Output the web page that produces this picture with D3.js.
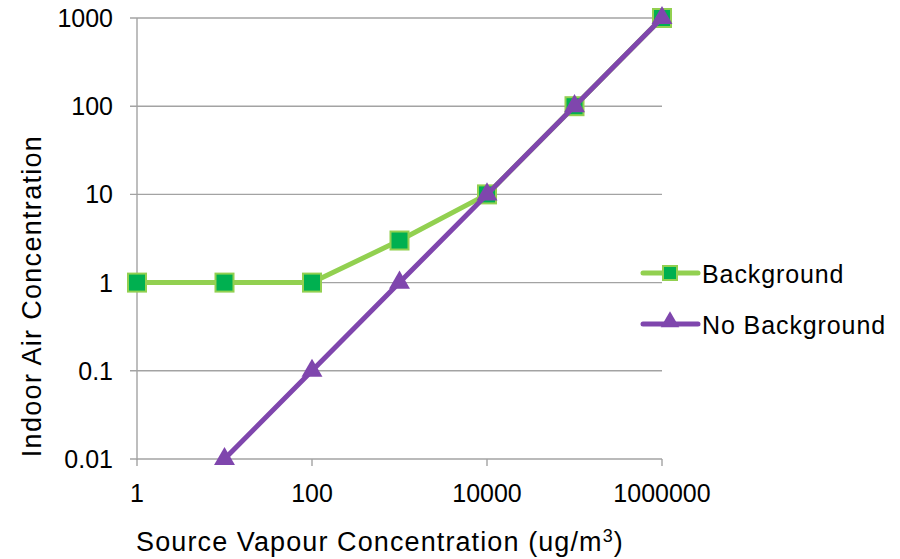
<!DOCTYPE html>
<html><head><meta charset="utf-8">
<script src="https://cdn.jsdelivr.net/npm/d3@7"></script>
<style>body{margin:0;background:#fff}svg{display:block;font-family:"Liberation Sans",Arial,sans-serif}</style>
</head><body><svg id="c" width="900" height="559"></svg>
<script>
const xValues = [1, 10, 100, 1000, 10000, 100000, 1000000];
const backgroundValues = [1, 1, 1, 3, 10, 100, 1000];
const noBgX = [10, 100, 1000, 10000, 100000, 1000000];
const noBackgroundValues = [0.01, 0.1, 1, 10, 100, 1000];
const xTicks = [1, 100, 10000, 1000000];
const yTicks = [0.01, 0.1, 1, 10, 100, 1000];
const seriesNames = ["Background", "No Background"];

const svg = d3.select("#c");
const L = 137, R = 662, T = 18, B = 459;
const x = d3.scaleLog().domain([1, 1000000]).range([L, R]);
const y = d3.scaleLog().domain([0.01, 1000]).range([B, T]);
const grid = "#a3a3a3";

svg.append("g").selectAll("line").data(yTicks).join("line")
  .attr("x1", L - 7).attr("x2", R).attr("y1", d => y(d)).attr("y2", d => y(d))
  .attr("stroke", grid).attr("stroke-width", 1.4);
svg.append("line").attr("x1", L).attr("x2", L).attr("y1", T).attr("y2", B + 1)
  .attr("stroke", grid).attr("stroke-width", 1.4);
svg.append("g").selectAll("line").data(xTicks).join("line")
  .attr("x1", d => x(d)).attr("x2", d => x(d)).attr("y1", B).attr("y2", B + 7)
  .attr("stroke", grid).attr("stroke-width", 1.4);

svg.append("g").selectAll("text").data(yTicks).join("text")
  .attr("x", 113).attr("y", d => y(d) + 9).attr("text-anchor", "end")
  .attr("font-size", 25).attr("fill", "#000").text(d => String(d));
svg.append("g").selectAll("text").data(xTicks).join("text")
  .attr("x", d => x(d)).attr("y", 502).attr("text-anchor", "middle")
  .attr("font-size", 25).attr("fill", "#000").text(d => String(d));

svg.append("text").attr("transform", "translate(41,296) rotate(-90)")
  .attr("text-anchor", "middle").attr("font-size", 27).attr("letter-spacing", 1.3).attr("fill", "#000")
  .text("Indoor Air Concentration");
const xt = svg.append("text").attr("x", 380).attr("y", 551).attr("text-anchor", "middle")
  .attr("font-size", 27).attr("letter-spacing", 1.1).attr("fill", "#000");
xt.append("tspan").text("Source Vapour Concentration (ug/m");
xt.append("tspan").attr("font-size", 18).attr("dy", -9).text("3");
xt.append("tspan").attr("dy", 9).text(")");

const greenLine = "#92d050", greenFill = "#00b050", purple = "#7f46ad";
const line = d3.line().x(d => x(d[0])).y(d => y(d[1]));
const bg = xValues.map((v, i) => [v, backgroundValues[i]]);
const nb = noBgX.map((v, i) => [v, noBackgroundValues[i]]);

svg.append("path").datum(bg).attr("d", line).attr("fill", "none")
  .attr("stroke", greenLine).attr("stroke-width", 5).attr("stroke-linejoin", "round");
svg.append("g").selectAll("rect").data(bg).join("rect")
  .attr("x", d => x(d[0]) - 9).attr("y", d => y(d[1]) - 9).attr("width", 18).attr("height", 18)
  .attr("fill", greenFill).attr("stroke", greenLine).attr("stroke-width", 2);

const tri = d3.symbol().type(d3.symbolTriangle).size(190);
svg.append("path").datum(nb).attr("d", line).attr("fill", "none")
  .attr("stroke", purple).attr("stroke-width", 5).attr("stroke-linejoin", "round");
svg.append("g").selectAll("path").data(nb).join("path")
  .attr("d", tri).attr("transform", d => `translate(${x(d[0])},${y(d[1])})`)
  .attr("fill", purple);

const lg = svg.append("g");
const ly = [273, 324];
lg.append("line").attr("x1", 643).attr("x2", 698).attr("y1", ly[0]).attr("y2", ly[0])
  .attr("stroke", greenLine).attr("stroke-width", 5).attr("stroke-linecap", "round");
lg.append("rect").attr("x", 663).attr("y", ly[0] - 7).attr("width", 14).attr("height", 14)
  .attr("fill", greenFill).attr("stroke", greenLine).attr("stroke-width", 2);
lg.append("line").attr("x1", 643).attr("x2", 698).attr("y1", ly[1]).attr("y2", ly[1])
  .attr("stroke", purple).attr("stroke-width", 5).attr("stroke-linecap", "round");
lg.append("path").attr("d", d3.symbol().type(d3.symbolTriangle).size(150))
  .attr("transform", `translate(670,${ly[1] - 2})`).attr("fill", purple);
lg.selectAll("text").data(seriesNames).join("text")
  .attr("x", 702).attr("y", (d, i) => ly[i] + 10).attr("font-size", 25).attr("letter-spacing", 0.9).attr("fill", "#000")
  .text(d => d);
</script></body></html>
